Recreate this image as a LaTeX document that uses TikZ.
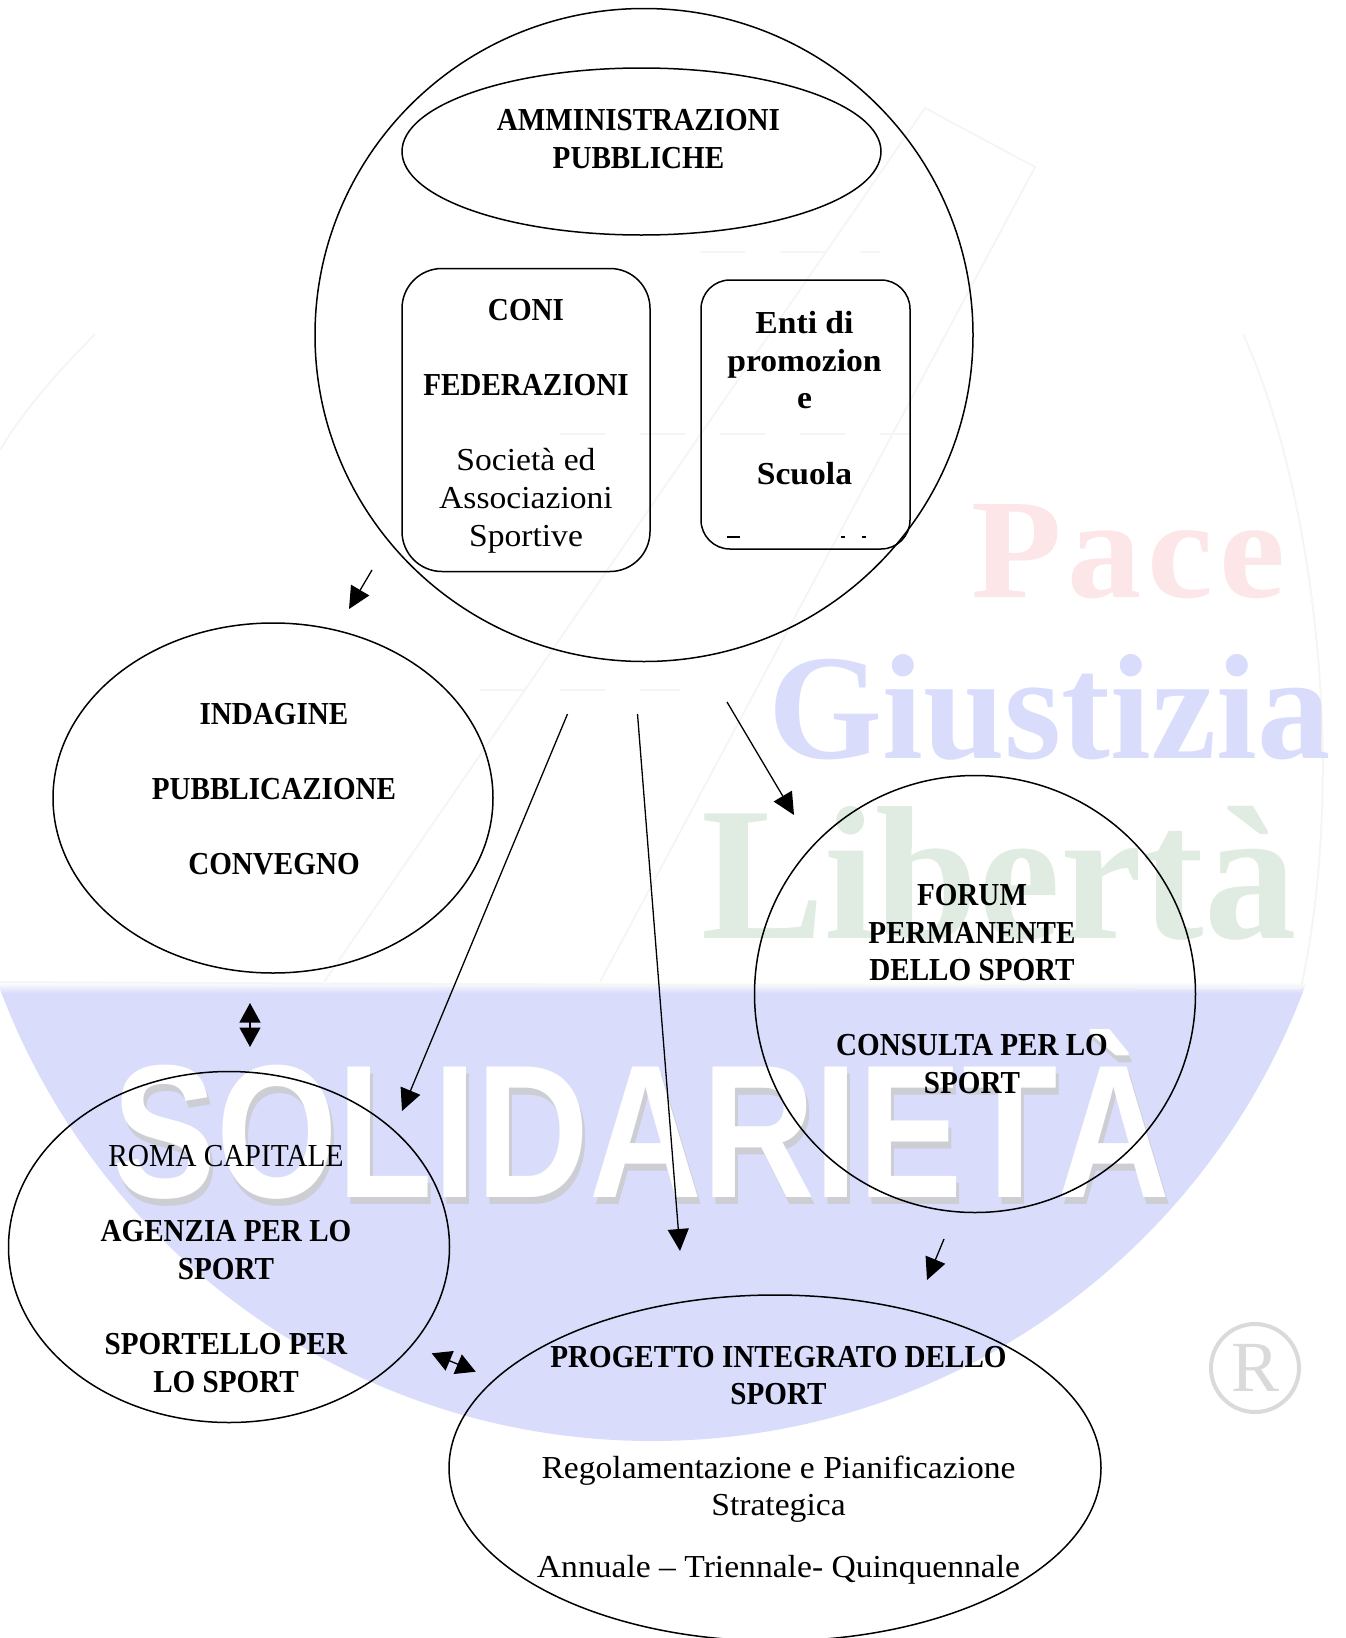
\documentclass[tikz,border=0pt]{standalone}
\usepackage{fontspec}
\setmainfont{Liberation Serif}[FakeStretch=1.05,BoldFeatures={FakeStretch=0.91}]
\newfontfamily\largo{Liberation Serif}[BoldFeatures={FakeStretch=1.05}]
\newfontfamily\wmserif{Liberation Serif}
\newfontfamily\wmsans{Liberation Sans}
\usetikzlibrary{positioning}
\usetikzlibrary{arrows.meta}
\usetikzlibrary{shapes.geometric}
\definecolor{lavanda}{RGB}{217,221,251}
\definecolor{rosa}{RGB}{252,230,232}
\definecolor{verdino}{RGB}{224,235,225}
\definecolor{ombra}{RGB}{205,205,212}
\definecolor{grigio}{RGB}{218,218,218}
\definecolor{tenue}{RGB}{244,246,244}
\newcommand{\wmtext}[3]{\resizebox{#1pt}{#2pt}{#3}}
\begin{document}
\begin{tikzpicture}[x=1pt,y=-1pt,>={Triangle[length=22pt,width=21pt]},
  oval/.style={draw,ellipse,line width=1.5pt,inner sep=0pt},
  blocco/.style={draw,rounded corners=#1,line width=1.5pt,inner sep=0pt},
  testo/.style={align=center,inner sep=0pt,font=\fontsize{32}{37.6}\selectfont},
  wm/.style={anchor=base west,inner sep=0pt},
  freccia/.style={->,line width=1.3pt},
  doppia/.style={{Triangle[length=19.5pt,width=21pt]}-{Triangle[length=19.5pt,width=21pt]},line width=1.3pt}]
\useasboundingbox (0,0) rectangle (1346,1638);

% filigrana
\begin{scope}
\clip (652,745) circle (696pt);
\fill[lavanda] (0,993) rectangle (1346,1500);
\shade[top color=white,bottom color=lavanda] (0,982) rectangle (1346,993);
\end{scope}
\draw[tenue,line width=2pt] (925,108) -- (1035,167) -- (600,982);
\draw[tenue,line width=2pt] (925,108) -- (324,982);
\draw[tenue,line width=2pt] (0,982) -- (1301,988);
\draw[tenue,line width=2pt] (1243,334) .. controls (1310,480) and (1350,760) .. (1301,988);
\draw[tenue,line width=2pt] (95,334) .. controls (70,360) and (30,400) .. (0,450);
\draw[tenue,line width=2pt,dash pattern=on 45pt off 35pt] (700,252) -- (880,252);
\draw[tenue,line width=2pt,dash pattern=on 45pt off 35pt] (560,434) -- (910,434);
\draw[tenue,line width=2pt,dash pattern=on 45pt off 35pt] (480,690) -- (680,690);

\node[wm,text=rosa] (pace) at (971,597) {\wmtext{314}{93}{\wmserif\bfseries P\kern.04em a\kern.04em c\kern.04em e}};
\node[wm,text=lavanda] (giustizia) at (768,758) {\wmtext{562}{104}{\wmserif\bfseries Giustizia}};
\node[wm,text=verdino] (liberta) at (701,938) {\wmtext{595}{132}{\wmserif\bfseries Libertà}};
\node[wm,text=ombra] (solidarietaombra) at (115,1204) {\wmtext{1058}{168}{\wmsans\bfseries SOLIDARIETÀ}};
\node[wm,text=white] (solidarieta) at (112,1197) {\wmtext{1058}{168}{\wmsans\bfseries SOLIDARIETÀ}};
\node[draw=grigio,text=grigio,circle,line width=4pt,minimum size=88pt,inner sep=0pt,font=\wmserif\fontsize{72}{72}\selectfont] (registrato) at (1255,1368) {R};

% cerchi e riquadri
\node[oval,minimum width=658pt,minimum height=653pt] (soggetti) at (644,335) {};
\node[oval,minimum width=479pt,minimum height=167pt] (amministrazioni) at (641.5,151.5) {};
\node[blocco=40pt,minimum width=248pt,minimum height=303pt] (coni) at (526,420) {};
\node[blocco=29pt,minimum width=209pt,minimum height=269pt] (enti) at (805.5,414.5) {};
\node[oval,minimum width=440pt,minimum height=350pt] (indagine) at (273,798) {};
\node[oval,minimum width=441pt,minimum height=437pt] (forum) at (975,994) {};
\node[oval,minimum width=441pt,minimum height=351pt] (roma) at (229,1247) {};
\node[oval,minimum width=652pt,minimum height=346pt] (progetto) at (775,1468) {};

% testi
\node[testo] (amministrazionitxt) at (638.5,139) {\textbf{AMMINISTRAZIONI}\\\textbf{PUBBLICHE}};
\node[testo] (conitxt) at (526,426.2) {\textbf{CONI}\\[37.6pt]\textbf{FEDERAZIONI}\\[37.6pt]Società ed\\Associazioni\\Sportive};
\node[testo,font=\largo\fontsize{32}{37.6}\selectfont] (entitxt) at (804.5,398) {\textbf{Enti di}\\\textbf{promozion}\\\textbf{e}\\[37.6pt]\textbf{Scuola}};
\node[testo] (indaginetxt) at (274,789) {\textbf{INDAGINE}\\[37.6pt]\textbf{PUBBLICAZIONE}\\[37.6pt]\textbf{CONVEGNO}};
\node[testo] (forumtxt) at (972,989) {\textbf{FORUM}\\\textbf{PERMANENTE}\\\textbf{DELLO SPORT}\\[37.6pt]\textbf{CONSULTA PER LO}\\\textbf{SPORT}};
\node[testo] (romatxt) at (226,1269) {\scalebox{0.875}[1]{ROMA CAPITALE}\\[37.6pt]\textbf{AGENZIA PER LO}\\\textbf{SPORT}\\[37.6pt]\textbf{SPORTELLO PER}\\\textbf{LO SPORT}};
\node[testo] (progettotxt) at (778.5,1465) {\textbf{PROGETTO INTEGRATO DELLO}\\\textbf{SPORT}\\[36pt]Regolamentazione e Pianificazione\\Strategica\\[24pt]Annuale -- Triennale- Quinquennale};

% riga tagliata in fondo al riquadro
\draw[line width=1.5pt] (727,537) -- (740,537);
\draw[line width=1.5pt] (841,537) -- (845,537);
\draw[line width=1.5pt] (862,537) -- (866,537);

% frecce
\coordinate (a1) at (372,570);
\coordinate (b1) at (349,609);
\coordinate (a2) at (567.5,714);
\coordinate (b2) at (402,1111);
\coordinate (a3) at (637.5,714);
\coordinate (b3) at (680,1251);
\coordinate (a4) at (727,702);
\coordinate (b4) at (794,815);
\coordinate (a5) at (944,1239);
\coordinate (b5) at (927,1280);
\coordinate (a6) at (250,1003);
\coordinate (b6) at (250,1047);
\coordinate (a7) at (431.7,1353.3);
\coordinate (b7) at (475.7,1371.7);
\foreach \i in {1,...,5}
  \draw[freccia] (a\i) -- (b\i);
\draw[doppia] (a6) -- (b6);
\draw[doppia] (a7) -- (b7);
\end{tikzpicture}
\end{document}
